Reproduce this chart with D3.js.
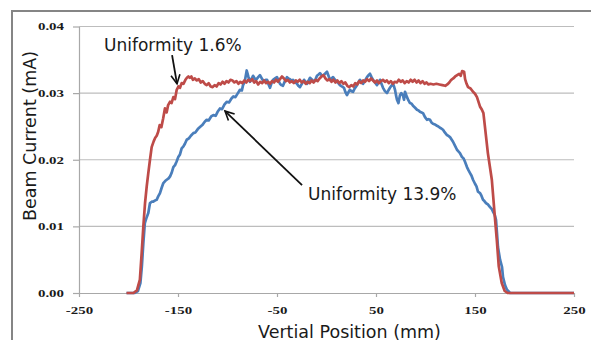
<!DOCTYPE html>
<html>
<head>
<meta charset="utf-8">
<script src="https://cdn.jsdelivr.net/npm/d3@7"></script>
<style>
  body { margin: 0; background: #fff; }
  svg { display: block; }
</style>
</head>
<body>
<svg id="chart" width="591" height="340"></svg>
<script>
// x ticks (mm) and y ticks (mA)
const xTickValues = [-250, -150, -50, 50, 150, 250];
const yTickValues = [0, 0.01, 0.02, 0.03, 0.04];

// [position (mm), beam current (mA)] - uniformity 1.6%
const redSeries = [
  [-202, 0], [-195, 0], [-191.5, 0.0004], [-188.5, 0.002], [-186.7, 0.006], [-185, 0.010],
  [-183.3, 0.0135], [-181.6, 0.016], [-180, 0.018], [-178.3, 0.020], [-176.6, 0.0219],
  [-174.5, 0.0228], [-173, 0.0233], [-171.5, 0.0236], [-170, 0.0242], [-168.5, 0.0252],
  [-166.8, 0.0249], [-165, 0.0262], [-163.2, 0.0277], [-161.5, 0.0271], [-160, 0.0282],
  [-158, 0.0287], [-156.5, 0.0285], [-154.7, 0.0294], [-153, 0.0291], [-151.3, 0.0305],
  [-149.5, 0.0310], [-148, 0.0308], [-146.3, 0.0315], [-144.5, 0.0314], [-142.5, 0.0320],
  [-141, 0.0323], [-139.5, 0.0325], [-138, 0.0323], [-136.5, 0.0325], [-135, 0.0320],
  [-133, 0.0322], [-131, 0.0319], [-129, 0.0321], [-127, 0.0316], [-125, 0.0318],
  [-123, 0.0314], [-121, 0.0312], [-119, 0.0315], [-117, 0.0310], [-115, 0.0309],
  [-113, 0.0312], [-111, 0.0310], [-109, 0.0315], [-107, 0.0313], [-105, 0.0317],
  [-103, 0.0314], [-101, 0.0318], [-99, 0.0316], [-97, 0.0320], [-95, 0.0319],
  [-93, 0.0316], [-91, 0.0318], [-89, 0.0314], [-87, 0.0317], [-85, 0.0315],
  [-83, 0.0319], [-81, 0.0316], [-79, 0.0320], [-77, 0.0318], [-75, 0.0321],
  [-73, 0.0316], [-71, 0.0318], [-69, 0.0313], [-67, 0.0317], [-65, 0.0315],
  [-63, 0.0319], [-61, 0.0315], [-59, 0.0317], [-57, 0.0314], [-55, 0.0318],
  [-53, 0.0316], [-51, 0.0320], [-49, 0.0317], [-47, 0.0321], [-45, 0.0325],
  [-43, 0.0322], [-41, 0.0318], [-39, 0.0320], [-37, 0.0316], [-35, 0.0318],
  [-33, 0.0315], [-31, 0.0319], [-29, 0.0317], [-27, 0.0320], [-25, 0.0316],
  [-23, 0.0318], [-21, 0.0314], [-19, 0.0317], [-17, 0.0315], [-15, 0.0319],
  [-13, 0.0316], [-11, 0.0320], [-9, 0.0318], [-7, 0.0322], [-5, 0.0325],
  [-3, 0.0327], [-1, 0.0322], [1, 0.0319], [3, 0.0321], [5, 0.0317],
  [7, 0.0320], [9, 0.0316], [11, 0.0319], [13, 0.0315], [15, 0.0318],
  [17, 0.0314], [19, 0.0316], [21, 0.0311], [23, 0.0309], [25, 0.0312],
  [27, 0.0310], [29, 0.0315], [31, 0.0313], [33, 0.0318], [35, 0.0315],
  [37, 0.0319], [39, 0.0317], [41, 0.0321], [43, 0.0318], [45, 0.0322],
  [47, 0.0319], [49, 0.0316], [51, 0.0319], [53, 0.0315], [55, 0.0318],
  [57, 0.0320], [59, 0.0317], [61, 0.0319], [63, 0.0315], [65, 0.0318],
  [67, 0.0314], [69, 0.0317], [71, 0.0316], [73, 0.0320], [75, 0.0317],
  [77, 0.0319], [79, 0.0315], [81, 0.0318], [83, 0.0316], [85, 0.0320],
  [87, 0.0317], [89, 0.0320], [91, 0.0316], [93, 0.0319], [95, 0.0315],
  [97, 0.0318], [99, 0.0314], [101, 0.0316], [103, 0.0313], [105, 0.0314],
  [108, 0.0313], [111, 0.0314], [114, 0.0313], [117, 0.0312], [120, 0.0311],
  [122, 0.0313], [124, 0.0316], [126, 0.0320], [128, 0.0322], [130, 0.0325],
  [132, 0.0327], [134, 0.0329], [135.5, 0.0326], [137, 0.0333], [139, 0.0332],
  [140, 0.0321], [141.5, 0.0314], [143, 0.0309], [145.5, 0.0307], [148, 0.0302],
  [150, 0.0299], [152, 0.0294], [155, 0.0280], [157, 0.0275], [158.5, 0.0270],
  [160, 0.0250], [163, 0.0210], [167, 0.0170], [170, 0.0115], [172, 0.0080],
  [174, 0.0040], [177, 0.0015], [180, 0.0003], [183, 0], [250, 0]
];

// [position (mm), beam current (mA)] - uniformity 13.9%
const blueSeries = [
  [-202, 0], [-194, 0], [-190.5, 0.0003], [-188, 0.0015], [-186.5, 0.004], [-185, 0.0075],
  [-183.5, 0.0105], [-182, 0.0112], [-180, 0.0120], [-178.3, 0.0135], [-176.5, 0.0137],
  [-175, 0.0137], [-173, 0.0139], [-171.5, 0.0140], [-170, 0.0145], [-168.2, 0.0150],
  [-166.5, 0.0158], [-164.8, 0.0165], [-163, 0.0168], [-161.4, 0.0170], [-159.5, 0.0172],
  [-158, 0.0175], [-156.5, 0.0180], [-154.7, 0.0189], [-153, 0.0192], [-151.5, 0.0197],
  [-149.7, 0.0204], [-148, 0.0208], [-146.3, 0.0217], [-144.5, 0.0220], [-143, 0.0224],
  [-141.2, 0.0230], [-139, 0.0232], [-137, 0.0236], [-134.5, 0.0240], [-132.5, 0.0241],
  [-130, 0.0246], [-127.8, 0.0249], [-125.5, 0.0252], [-123, 0.0257], [-121, 0.0260],
  [-119, 0.0259], [-116.5, 0.0265], [-114.3, 0.0267], [-112, 0.0266], [-110, 0.0272],
  [-107.6, 0.0277], [-105.5, 0.0276], [-103, 0.0283], [-100.8, 0.0287], [-98.5, 0.0286],
  [-96, 0.0292], [-94.1, 0.0295], [-92, 0.0294], [-89.5, 0.0300], [-87.4, 0.0305],
  [-85.5, 0.0304], [-84.3, 0.0312], [-82.5, 0.0318], [-80.6, 0.0334], [-79, 0.0325],
  [-77.3, 0.0317], [-75.5, 0.0322], [-74.2, 0.0326], [-72.5, 0.0322], [-71.2, 0.0320],
  [-69, 0.0324], [-67.2, 0.0327], [-65, 0.0321], [-63.1, 0.0317], [-61.5, 0.0320],
  [-60.1, 0.0320], [-58.5, 0.0313], [-57.1, 0.0308], [-55.5, 0.0315], [-54, 0.0320],
  [-52, 0.0322], [-50, 0.0324], [-48.5, 0.0319], [-47, 0.0314], [-45.5, 0.0312],
  [-44, 0.0311], [-42, 0.0318], [-39.9, 0.0324], [-38.5, 0.0322], [-36.9, 0.0321],
  [-35.5, 0.0318], [-33.8, 0.0320], [-31.5, 0.0316], [-29.8, 0.0314], [-28.5, 0.0311],
  [-26.8, 0.0309], [-24.5, 0.0315], [-22.7, 0.0320], [-21, 0.0317], [-19.7, 0.0314],
  [-18, 0.0319], [-16.7, 0.0323], [-14.5, 0.0320], [-12.6, 0.0317], [-11, 0.0321],
  [-9.6, 0.0326], [-8, 0.0328], [-6.6, 0.0330], [-5, 0.0327], [-3.5, 0.0326],
  [-1.5, 0.0329], [0.5, 0.0332], [2, 0.0326], [3.5, 0.0320], [5, 0.0322],
  [6.6, 0.0324], [8.5, 0.0320], [10.6, 0.0317], [12, 0.0315], [13.6, 0.0312],
  [15.5, 0.0310], [17.7, 0.0308], [19, 0.0302], [20.7, 0.0297], [22, 0.0301],
  [23.7, 0.0305], [25, 0.0303], [26.8, 0.0302], [28.5, 0.0307], [30.8, 0.0312],
  [32.5, 0.0317], [33.8, 0.0320], [35.5, 0.0317], [36.9, 0.0314], [39, 0.0319],
  [40.9, 0.0324], [42.5, 0.0327], [43.9, 0.0329], [45.5, 0.0324], [47, 0.0320],
  [49, 0.0316], [51, 0.0312], [52.5, 0.0316], [54, 0.0320], [55.5, 0.0314],
  [57.1, 0.0308], [59, 0.0303], [61.1, 0.0300], [62.5, 0.0304], [64.1, 0.0308],
  [65.5, 0.0311], [67.2, 0.0314], [68.2, 0.0310], [69.2, 0.0305], [70.2, 0.0297],
  [71.2, 0.0290], [72.7, 0.0285], [74.2, 0.0297], [75.5, 0.0300], [77.3, 0.0296],
  [78.3, 0.0290], [79.3, 0.0302], [81.3, 0.0294], [82.8, 0.0289], [84.3, 0.0285],
  [86, 0.0284], [87.4, 0.0281], [89.5, 0.0278], [91.4, 0.0275], [93, 0.0274],
  [94.4, 0.0272], [96, 0.0271], [97.5, 0.0270], [99.5, 0.0264], [101.5, 0.0260],
  [103, 0.0261], [104.5, 0.0260], [106, 0.0256], [107.6, 0.0254], [109.5, 0.0253],
  [111.6, 0.0251], [113, 0.0250], [114.6, 0.0248], [116, 0.0247], [117.7, 0.0245],
  [119.5, 0.0241], [121.7, 0.0237], [123, 0.0236], [124.7, 0.0234], [126, 0.0231],
  [127.8, 0.0227], [129.5, 0.0222], [131.8, 0.0215], [133, 0.0213], [134.8, 0.0210],
  [136.9, 0.0204], [138.5, 0.0202], [139.9, 0.0197], [141.9, 0.0189], [143.5, 0.0184],
  [145, 0.0180], [146.5, 0.0176], [148, 0.0170], [150, 0.0164], [151.5, 0.0160],
  [153, 0.0152], [155.1, 0.0150], [156.5, 0.0146], [158.1, 0.0140], [159.5, 0.0138],
  [161.1, 0.0135], [163, 0.0133], [165.2, 0.0129], [167, 0.0126], [168.2, 0.0122],
  [170, 0.0117], [171.2, 0.0110], [172.2, 0.0090], [173.2, 0.0069], [175.3, 0.0050],
  [177.3, 0.0039], [178.3, 0.0024], [180.3, 0.0012], [182.3, 0.0005], [185.4, 0], [250, 0]
];

// annotation labels and arrows, in data units
const annotationLabels = [
  { text: 'Uniformity 1.6%', x: -224.7, y: 0.0363 },
  { text: 'Uniformity 13.9%', x: -18.7, y: 0.01395 }
];
const annotationArrows = [
  { from: [-156, 0.0357], to: [-151, 0.0314] },
  { from: [-24.7, 0.0162], to: [-102.5, 0.0273] }
];

const margin = { left: 79, right: 17, top: 26.5, bottom: 47 };
const width = 591;
const height = 340;

const svg = d3.select('#chart');

const xScale = d3.scaleLinear()
  .domain([-250, 250])
  .range([margin.left, width - margin.right]);
const yScale = d3.scaleLinear()
  .domain([0, 0.04])
  .range([height - margin.bottom, margin.top]);

// outer frame (runs off the right and bottom of the picture)
svg.append('rect')
  .attr('x', 12)
  .attr('y', 11)
  .attr('width', 700)
  .attr('height', 500)
  .attr('fill', 'none')
  .attr('stroke', '#858585')
  .attr('stroke-width', 2);

// gridlines
svg.append('g')
  .attr('class', 'grid')
  .selectAll('line')
  .data(yTickValues.filter(d => d > 0))
  .join('line')
  .attr('x1', xScale(-250))
  .attr('x2', xScale(250))
  .attr('y1', d => yScale(d))
  .attr('y2', d => yScale(d))
  .attr('stroke', '#bdbdbd')
  .attr('stroke-width', 1.2);

// Y AXIS
const yAxis = svg.append('g')
  .attr('transform', `translate(${margin.left}, 0)`)
  .call(d3.axisLeft(yScale)
    .tickValues(yTickValues)
    .tickFormat(d3.format('.2f'))
    .tickSize(6)
    .tickSizeOuter(0)
    .tickPadding(9));

// X AXIS (plain hyphen for negatives, as in the original)
const xAxis = svg.append('g')
  .attr('transform', `translate(0, ${yScale(0)})`)
  .call(d3.axisBottom(xScale)
    .tickValues(xTickValues)
    .tickFormat(d => String(d))
    .tickSize(4)
    .tickSizeOuter(0)
    .tickPadding(10));

[yAxis, xAxis].forEach(axis => {
  axis.select('.domain').attr('stroke', '#a8a8a8').attr('stroke-width', 1.2);
  axis.selectAll('.tick line').attr('stroke', '#a8a8a8').attr('stroke-width', 1.2);
  axis.selectAll('.tick text')
    .attr('fill', '#1a1a1a')
    .style('font-family', '"Liberation Serif", "Times New Roman", serif')
    .style('font-weight', 'bold')
    .style('font-size', '10.5px')
    .each(function() {
      // the reference labels are a wide bold serif
      const w = this.getComputedTextLength();
      d3.select(this)
        .attr('textLength', w * 1.42)
        .attr('lengthAdjust', 'spacingAndGlyphs');
    });
});

// lines
const lineGen = d3.line()
  .x(d => xScale(d[0]))
  .y(d => yScale(d[1]));

svg.append('path')
  .datum(blueSeries)
  .attr('d', lineGen)
  .attr('fill', 'none')
  .attr('stroke', '#4a7ebb')
  .attr('stroke-width', 2.7)
  .attr('stroke-linejoin', 'round');

svg.append('path')
  .datum(redSeries)
  .attr('d', lineGen)
  .attr('fill', 'none')
  .attr('stroke', '#be4b48')
  .attr('stroke-width', 2.7)
  .attr('stroke-linejoin', 'round');

// axis titles
const titleFont = '"DejaVu Sans", Verdana, sans-serif';
svg.append('text')
  .attr('transform', 'translate(35.5, 136) rotate(-90)')
  .attr('text-anchor', 'middle')
  .style('font-family', titleFont)
  .style('font-size', '17.5px')
  .attr('fill', '#1a1a1a')
  .text('Beam Current (mA)');

svg.append('text')
  .attr('x', 349.5)
  .attr('y', 337.5)
  .attr('text-anchor', 'middle')
  .style('font-family', titleFont)
  .style('font-size', '17.5px')
  .attr('fill', '#1a1a1a')
  .text('Vertial Position (mm)');

// annotations
svg.append('defs')
  .append('marker')
  .attr('id', 'arrow-head')
  .attr('markerUnits', 'userSpaceOnUse')
  .attr('viewBox', '-12 -7 14 14')
  .attr('markerWidth', 14)
  .attr('markerHeight', 14)
  .attr('refX', 0)
  .attr('refY', 0)
  .attr('orient', 'auto')
  .append('path')
  .attr('d', 'M-9,-4.5L0,0L-9,4.5')
  .attr('fill', 'none')
  .attr('stroke', '#111')
  .attr('stroke-width', 1.6);

svg.append('g')
  .selectAll('line')
  .data(annotationArrows)
  .join('line')
  .attr('x1', d => xScale(d.from[0]))
  .attr('y1', d => yScale(d.from[1]))
  .attr('x2', d => xScale(d.to[0]))
  .attr('y2', d => yScale(d.to[1]))
  .attr('stroke', '#111')
  .attr('stroke-width', 1.8)
  .attr('marker-end', 'url(#arrow-head)');

svg.append('g')
  .selectAll('text')
  .data(annotationLabels)
  .join('text')
  .attr('x', d => xScale(d.x))
  .attr('y', d => yScale(d.y))
  .style('font-family', titleFont)
  .style('font-size', '17px')
  .attr('fill', '#1a1a1a')
  .text(d => d.text);
</script>
</body>
</html>
